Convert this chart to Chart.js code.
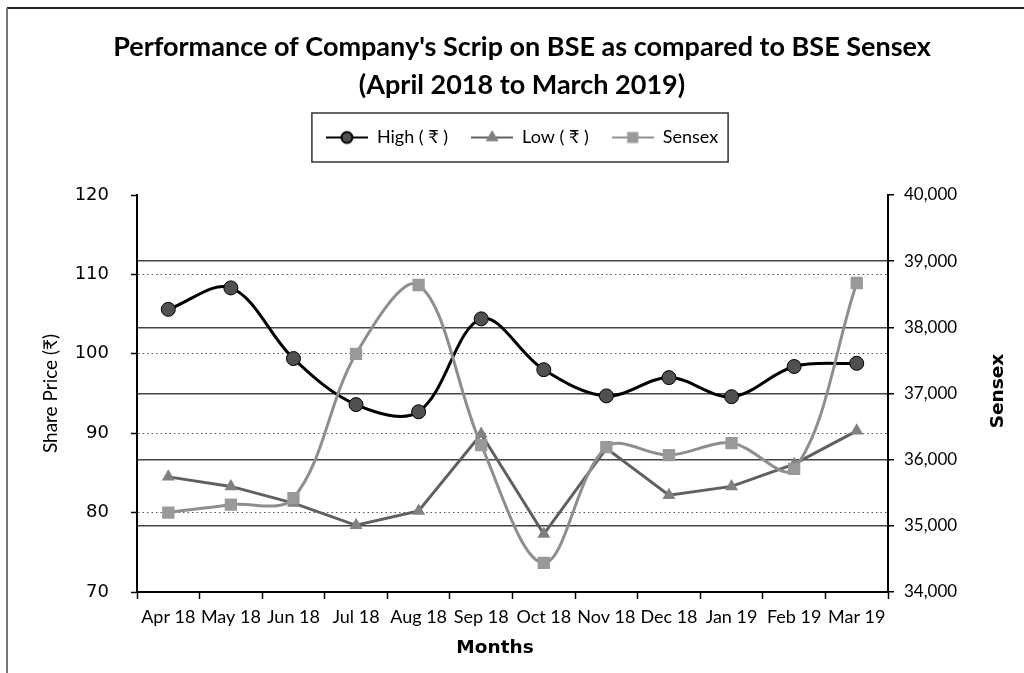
<!DOCTYPE html>
<html>
<head>
<meta charset="utf-8">
<script src="https://cdn.jsdelivr.net/npm/chart.js@4"></script>
<style>
  html, body { margin: 0; padding: 0; background: #fff; }
  #wrap { width: 1024px; height: 673px; }
</style>
</head>
<body>
<div id="wrap"><canvas id="scripChart" width="1024" height="673"></canvas></div>
<script>
// chart data
const months = ['Apr 18', 'May 18', 'Jun 18', 'Jul 18', 'Aug 18', 'Sep 18', 'Oct 18', 'Nov 18', 'Dec 18', 'Jan 19', 'Feb 19', 'Mar 19'];
const highPrice = [105.6, 108.3, 99.4, 93.6, 92.7, 104.4, 98.0, 94.7, 97.0, 94.6, 98.4, 98.8];
const lowPrice = [84.5, 83.3, 81.2, 78.4, 80.2, 89.9, 77.3, 88.1, 82.2, 83.3, 86.1, 90.3];
const sensex = [35200, 35320, 35420, 37600, 38640, 36220, 34440, 36190, 36070, 36250, 35860, 38670];
const seriesNames = ['High ( \u20B9 )', 'Low ( \u20B9 )', 'Sensex'];
const titleLines = ["Performance of Company's Scrip on BSE as compared to BSE Sensex", '(April 2018 to March 2019)'];

const LATO = 'Lato, "Liberation Sans", sans-serif';

// little legend icons: line with the marker on top
function legendIcon(style, lineColor, fill, border, r) {
  const c = document.createElement('canvas');
  c.width = 42; c.height = 16;
  const ctx = c.getContext('2d');
  ctx.strokeStyle = lineColor;
  ctx.lineWidth = 2;
  ctx.beginPath(); ctx.moveTo(0, 8); ctx.lineTo(42, 8); ctx.stroke();
  ctx.fillStyle = fill;
  ctx.strokeStyle = border;
  Chart.helpers.drawPoint(ctx, { pointStyle: style, radius: r, rotation: 0, borderWidth: 1 }, 21, 8);
  return c;
}
const icons = [
  legendIcon('circle', '#000', '#505050', '#000', 5.5),
  legendIcon('triangle', '#606060', '#808080', '#808080', 5.5),
  legendIcon('rect', '#909090', '#999', '#999', 6.5)
];

function axisText(ctx, text, x, y, rot) {
  ctx.save();
  ctx.translate(x, y);
  ctx.rotate(rot);
  ctx.font = 'bold 18.5px "DejaVu Sans", sans-serif';
  ctx.fillStyle = '#000';
  ctx.textAlign = 'center';
  ctx.textBaseline = 'middle';
  ctx.fillText(text, 0, 0);
  ctx.restore();
}

// frame, legend box and the bold axis titles
const extras = {
  id: 'extras',
  beforeDraw(chart) {
    const ctx = chart.ctx;
    ctx.save();
    ctx.fillStyle = '#fff';
    ctx.fillRect(0, 0, chart.width, chart.height);
    ctx.lineWidth = 2;
    ctx.strokeStyle = '#222';
    ctx.beginPath(); ctx.moveTo(7, 8); ctx.lineTo(chart.width, 8); ctx.stroke();
    ctx.strokeStyle = '#777';
    ctx.beginPath(); ctx.moveTo(7, 8); ctx.lineTo(7, chart.height); ctx.stroke();
    ctx.restore();
  },
  afterDraw(chart) {
    const ctx = chart.ctx;
    const boxes = chart.legend.legendHitBoxes;
    if (boxes && boxes.length) {
      const first = boxes[0], last = boxes[boxes.length - 1];
      const cy = first.top + first.height / 2;
      ctx.save();
      ctx.strokeStyle = '#333';
      ctx.lineWidth = 1.5;
      ctx.strokeRect(first.left - 14, cy - 24.5, last.left + last.width - first.left + 24, 49);
      ctx.restore();
    }
    axisText(ctx, 'Sensex', 998, 391, -Math.PI / 2);
    axisText(ctx, 'Months', 495, 648, 0);
  }
};

new Chart(document.getElementById('scripChart'), {
  type: 'line',
  data: {
    labels: months,
    datasets: [{
      label: seriesNames[0],
      data: highPrice,
      xAxisID: 'x',
      yAxisID: 'y',
      order: 3,
      borderColor: '#000',
      borderWidth: 3,
      tension: 0.35,
      pointStyle: 'circle',
      pointRadius: 7,
      pointBackgroundColor: '#505050',
      pointBorderColor: '#000',
      pointBorderWidth: 1
    }, {
      label: seriesNames[1],
      data: lowPrice,
      xAxisID: 'x',
      yAxisID: 'y',
      order: 2,
      borderColor: '#606060',
      borderWidth: 3,
      tension: 0,
      pointStyle: 'triangle',
      pointRadius: 7.5,
      pointBackgroundColor: '#808080',
      pointBorderColor: '#808080',
      pointBorderWidth: 0
    }, {
      label: seriesNames[2],
      data: sensex,
      xAxisID: 'x',
      yAxisID: 'y1',
      order: 1,
      borderColor: '#8e8e8e',
      borderWidth: 3,
      tension: 0.35,
      pointStyle: 'rect',
      pointRadius: 8.7,
      pointBackgroundColor: '#999',
      pointBorderColor: '#999',
      pointBorderWidth: 0
    }]
  },
  options: {
    responsive: false,
    animation: false,
    layout: { padding: { left: 20, right: 0, top: 0, bottom: 0 } },
    plugins: {
      tooltip: { enabled: false },
      title: {
        display: true,
        text: titleLines,
        color: '#000',
        font: { family: 'Lato, "DejaVu Sans", sans-serif', size: 27, weight: 'bold', lineHeight: 38 / 27 },
        padding: { top: 28, bottom: 1.5 }
      },
      legend: {
        display: true,
        labels: {
          color: '#000',
          font: { family: LATO, size: 18 },
          padding: 23,
          usePointStyle: true,
          pointStyleWidth: 42,
          generateLabels: () => seriesNames.map((name, i) => ({
            text: name,
            pointStyle: icons[i],
            fillStyle: 'transparent',
            strokeStyle: 'transparent',
            lineWidth: 0,
            hidden: false,
            datasetIndex: i
          }))
        }
      }
    },
    scales: {
      x: {
        position: 'bottom',
        offset: true,
        grid: { offset: true, drawOnChartArea: false, tickLength: 7, tickColor: '#000', tickWidth: 1.5 },
        border: { color: '#000', width: 2 },
        ticks: { color: '#000', font: { family: LATO, size: 18 }, padding: 7, maxRotation: 0, autoSkip: false },
        afterFit: s => { s.height = 81; }
      },
      // empty strip that keeps the plot below the legend
      xTop: {
        type: 'category',
        position: 'top',
        display: true,
        offset: true,
        grid: { display: false },
        border: { display: false },
        ticks: { display: false },
        afterFit: s => { s.height = 38.5; }
      },
      y: {
        position: 'left',
        min: 70,
        max: 120,
        ticks: { stepSize: 10, color: '#000', font: { family: '"DejaVu Sans", sans-serif', size: 18 }, padding: 22 },
        grid: {
          color: c => (c.tick && (c.tick.value === 70 || c.tick.value === 120)) ? 'rgba(0,0,0,0)' : '#555',
          lineWidth: 1,
          tickLength: 6,
          tickColor: '#000',
          tickWidth: 1.5
        },
        border: { color: '#000', width: 2, dash: [1.5, 3] },
        title: {
          display: true,
          text: 'Share Price (\u20B9)',
          color: '#000',
          font: { family: LATO, size: 19 },
          padding: { top: 19, bottom: 0 }
        },
        afterFit: s => { s.width = 117; }
      },
      y1: {
        position: 'right',
        min: 34000,
        max: 40000,
        ticks: {
          stepSize: 1000,
          color: '#000',
          font: { family: LATO, size: 17 },
          padding: 10,
          callback: v => v.toLocaleString('en-US')
        },
        grid: {
          color: c => (c.tick && (c.tick.value === 34000 || c.tick.value === 40000)) ? 'rgba(0,0,0,0)' : '#444',
          lineWidth: 1.5,
          tickLength: 6,
          tickColor: '#000',
          tickWidth: 1.5
        },
        border: { color: '#000', width: 2 },
        afterFit: s => { s.width = 136; }
      }
    }
  },
  plugins: [extras]
});
</script>
</body>
</html>
